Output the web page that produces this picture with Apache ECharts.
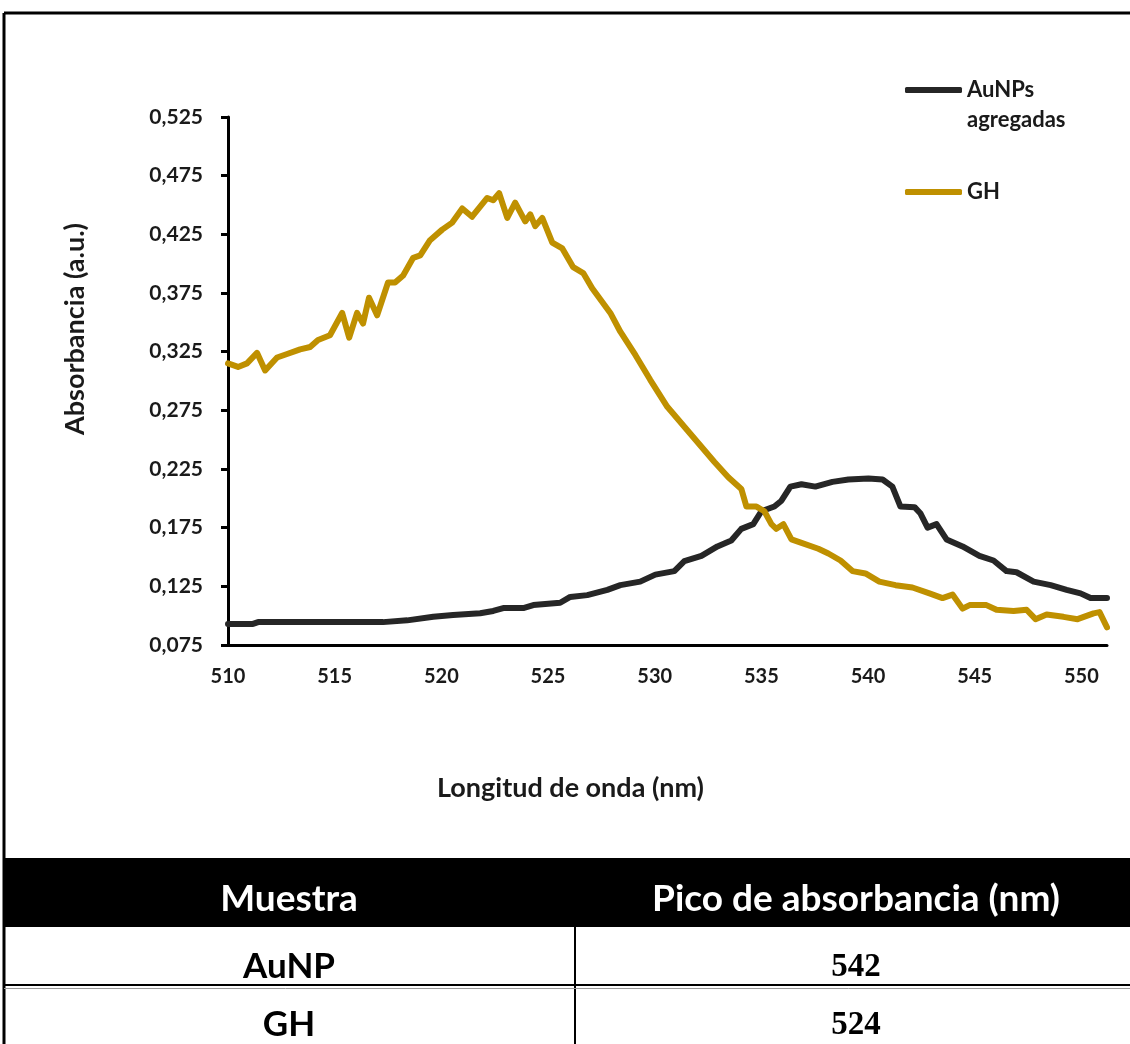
<!DOCTYPE html>
<html>
<head>
<meta charset="utf-8">
<script src="https://cdn.jsdelivr.net/npm/echarts@6/dist/echarts.min.js"></script>
<style>
  html, body { margin: 0; padding: 0; background: #fff; }
  #chart { width: 1130px; height: 1044px; }
</style>
</head>
<body>
<div id="chart"></div>
<script>
// UV-Vis absorbance spectra (wavelength in nm, absorbance in a.u.)
const auWavelength = [510.0, 511.17, 511.41, 517.27, 518.40, 519.62, 520.55, 521.82, 522.43, 522.90,
  523.84, 524.31, 525.57, 526.04, 526.84, 527.78, 528.39, 529.32, 530.03, 530.92,
  531.39, 532.19, 532.94, 533.59, 534.06, 534.62, 535.00, 535.61, 535.94, 536.36,
  536.88, 537.53, 538.33, 539.08, 540.02, 540.68, 541.14, 541.52, 542.18, 542.46,
  542.79, 543.21, 543.68, 544.43, 545.22, 545.88, 546.49, 546.96, 547.76, 548.56,
  549.31, 549.96, 550.43, 551.20];
const auAbsorbance = [0.093, 0.093, 0.0945, 0.0945, 0.096, 0.099, 0.1005, 0.102, 0.104, 0.1065,
  0.1065, 0.109, 0.111, 0.116, 0.1175, 0.122, 0.126, 0.129, 0.135, 0.138,
  0.1465, 0.151, 0.159, 0.164, 0.174, 0.178, 0.189, 0.193, 0.198, 0.210,
  0.212, 0.210, 0.214, 0.216, 0.217, 0.216, 0.210, 0.193, 0.1925, 0.187,
  0.175, 0.178, 0.165, 0.159, 0.151, 0.147, 0.138, 0.137, 0.129, 0.126,
  0.122, 0.119, 0.115, 0.115];

const ghWavelength = [510.0, 510.47, 510.89, 511.36, 511.74, 512.30, 512.77, 513.38, 513.85, 514.22,
  514.78, 515.35, 515.68, 516.05, 516.33, 516.61, 516.99, 517.50, 517.83, 518.21,
  518.68, 519.01, 519.47, 520.04, 520.51, 520.98, 521.44, 522.15, 522.43, 522.71,
  523.09, 523.46, 523.93, 524.17, 524.40, 524.73, 525.20, 525.67, 526.18, 526.65,
  527.07, 527.92, 528.39, 529.10, 529.79, 530.59, 531.53, 532.19, 532.80, 533.45,
  534.06, 534.30, 534.77, 535.14, 535.47, 535.70, 536.03, 536.41, 536.88, 537.67,
  538.14, 538.71, 539.27, 539.88, 540.53, 541.29, 542.08, 542.88, 543.49, 543.96,
  544.43, 544.76, 545.55, 546.02, 546.82, 547.43, 547.85, 548.37, 549.16, 549.82,
  550.57, 550.85, 551.20];
const ghAbsorbance = [0.315, 0.312, 0.315, 0.324, 0.309, 0.320, 0.323, 0.327, 0.329, 0.335,
  0.339, 0.358, 0.337, 0.358, 0.349, 0.371, 0.356, 0.384, 0.384, 0.390,
  0.405, 0.407, 0.420, 0.429, 0.435, 0.447, 0.440, 0.456, 0.454, 0.460,
  0.439, 0.452, 0.436, 0.442, 0.432, 0.439, 0.418, 0.413, 0.397, 0.392,
  0.379, 0.358, 0.342, 0.322, 0.301, 0.278, 0.258, 0.244, 0.231, 0.218,
  0.208, 0.193, 0.193, 0.189, 0.178, 0.174, 0.178, 0.165, 0.162, 0.157,
  0.153, 0.147, 0.138, 0.136, 0.129, 0.126, 0.124, 0.119, 0.115, 0.118,
  0.106, 0.109, 0.109, 0.105, 0.104, 0.105, 0.097, 0.101, 0.099, 0.097,
  0.102, 0.103, 0.090];

const xTicks = [510, 515, 520, 525, 530, 535, 540, 545, 550];
const yTicks = [0.075, 0.125, 0.175, 0.225, 0.275, 0.325, 0.375, 0.425, 0.475, 0.525];

// Summary table
const tableHeader = ['Muestra', 'Pico de absorbancia (nm)'];
const sampleNames = ['AuNP', 'GH'];
const peakWavelengths = [542, 524];

const seriesNames = ['AuNPs agregadas', 'GH'];
const colors = ['#262626', '#BF9000'];

function pairs(xs, ys) {
  return xs.map((x, i) => [x, ys[i]]);
}

const FONT = 'Lato, "Open Sans", sans-serif';

// Table drawn as graphic elements below the plot
const tableGraphics = [];
const colCenters = [289, 856];
const rowCenters = [967, 1025];
tableGraphics.push({ type: 'rect', shape: { x: 4, y: 858, width: 1126, height: 69 }, style: { fill: '#000' } });
tableHeader.forEach((t, i) => {
  tableGraphics.push({ type: 'text', x: colCenters[i], y: 899,
    style: { text: t, fill: '#fff', font: 'bold 37px ' + FONT, align: 'center', verticalAlign: 'middle' } });
});
sampleNames.forEach((t, i) => {
  tableGraphics.push({ type: 'text', x: colCenters[0], y: rowCenters[i],
    style: { text: t, fill: '#000', font: 'bold 35px ' + FONT, align: 'center', verticalAlign: 'middle' } });
  tableGraphics.push({ type: 'text', x: colCenters[1], y: rowCenters[i],
    style: { text: String(peakWavelengths[i]), fill: '#000', font: 'bold 33px "Liberation Serif", serif', align: 'center', verticalAlign: 'middle' } });
});
tableGraphics.push({ type: 'line', shape: { x1: 575, y1: 927, x2: 575, y2: 1044 }, style: { stroke: '#000', lineWidth: 2 } });
tableGraphics.push({ type: 'line', shape: { x1: 4, y1: 985, x2: 1130, y2: 985 }, style: { stroke: '#000', lineWidth: 2 } });
tableGraphics.push({ type: 'line', shape: { x1: 4, y1: 988.5, x2: 1130, y2: 988.5 }, style: { stroke: '#999', lineWidth: 1 } });

// Outer frame (top and left edges)
const frameGraphics = [
  { type: 'line', shape: { x1: 4, y1: 13, x2: 1130, y2: 13 }, style: { stroke: '#000', lineWidth: 3 } },
  { type: 'line', shape: { x1: 4, y1: 13, x2: 4, y2: 1044 }, style: { stroke: '#000', lineWidth: 3 } }
];

const chart = echarts.init(document.getElementById('chart'), null, { renderer: 'canvas' });

const legendText = { fontFamily: FONT, fontWeight: 'bold', fontSize: 22, color: '#1a1a1a', lineHeight: 30 };

const option = {
  backgroundColor: '#fff',
  animation: false,
  textStyle: { fontFamily: FONT },
  grid: { left: 228, right: 23, top: 117, bottom: 399, outerBoundsMode: 'none', containLabel: false },
  legend: [
    {
      data: [seriesNames[0]],
      left: 905, top: 45, padding: 0,
      icon: 'roundRect',
      itemWidth: 57, itemHeight: 6,
      // keep the icon level with the first line of the two-line name
      formatter: name => '\n' + name.replace(' ', '\n'),
      textStyle: legendText
    },
    {
      data: [seriesNames[1]],
      left: 905, top: 177, padding: 0,
      icon: 'roundRect',
      itemWidth: 57, itemHeight: 6,
      textStyle: legendText
    }
  ],
  xAxis: {
    type: 'value',
    min: 510, max: 551.2,
    name: 'Longitud de onda (nm)',
    nameLocation: 'middle',
    nameGap: 130,
    nameTextStyle: { fontFamily: FONT, fontWeight: 'bold', fontSize: 27, color: '#1a1a1a', padding: [0, 194, 0, 0] },
    axisLine: { show: true, onZero: false, lineStyle: { color: '#000', width: 3 } },
    axisTick: { show: false },
    splitLine: { show: false },
    axisLabel: {
      customValues: xTicks,
      margin: 22,
      fontFamily: FONT, fontWeight: 'bold', fontSize: 20, color: '#1a1a1a'
    }
  },
  yAxis: {
    type: 'value',
    min: 0.075, max: 0.525,
    name: 'Absorbancia (a.u.)',
    nameLocation: 'middle',
    nameRotate: 90,
    nameGap: 139,
    nameTextStyle: { fontFamily: FONT, fontWeight: 'bold', fontSize: 27, color: '#1a1a1a', padding: [0, 0, 0, 104] },
    axisLine: { show: true, onZero: false, lineStyle: { color: '#000', width: 3 } },
    axisTick: { show: true, customValues: yTicks, length: 7, lineStyle: { color: '#000', width: 3 } },
    splitLine: { show: false },
    axisLabel: {
      customValues: yTicks,
      margin: 25,
      formatter: v => v.toFixed(3).replace('.', ','),
      fontFamily: FONT, fontWeight: 'bold', fontSize: 21, color: '#1a1a1a'
    }
  },
  series: [
    {
      name: seriesNames[0],
      type: 'line',
      data: pairs(auWavelength, auAbsorbance),
      symbol: 'none',
      smooth: false,
      color: colors[0],
      lineStyle: { color: colors[0], width: 6, cap: 'round', join: 'round' }
    },
    {
      name: seriesNames[1],
      type: 'line',
      data: pairs(ghWavelength, ghAbsorbance),
      symbol: 'none',
      smooth: false,
      color: colors[1],
      lineStyle: { color: colors[1], width: 6, cap: 'round', join: 'round' }
    }
  ],
  graphic: frameGraphics.concat(tableGraphics)
};

chart.setOption(option);
</script>
</body>
</html>
